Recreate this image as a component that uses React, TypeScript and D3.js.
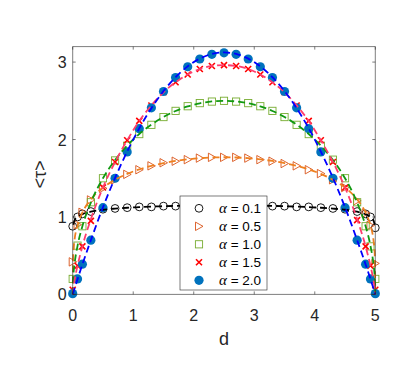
import React from "react";
import * as d3 from "d3";

// ---- data ----
const dPts = [0, 0.08, 0.16, 0.3, 0.5, 0.7, 0.9, 1.1, 1.3, 1.5, 1.7, 1.9, 2.1, 2.3, 2.5, 2.7, 2.9, 3.1, 3.3, 3.5, 3.7, 3.9, 4.1, 4.3, 4.5, 4.7, 4.84, 4.92, 5];
const tau01 = [0.88, 1.0, 1.04, 1.07, 1.1, 1.11, 1.12, 1.13, 1.13, 1.14, 1.14, 1.15, 1.15, 1.15, 1.15, 1.15, 1.15, 1.15, 1.14, 1.14, 1.13, 1.13, 1.12, 1.11, 1.1, 1.07, 1.04, 1.0, 0.86];
const tau05 = [0.42, 0.9, 1.06, 1.22, 1.37, 1.48, 1.55, 1.61, 1.66, 1.7, 1.72, 1.74, 1.76, 1.77, 1.77, 1.77, 1.76, 1.74, 1.72, 1.69, 1.66, 1.61, 1.56, 1.48, 1.38, 1.21, 1.05, 0.89, 0.4];
const tau10 = [0.2, 0.63, 0.88, 1.19, 1.5, 1.73, 1.92, 2.07, 2.19, 2.29, 2.37, 2.43, 2.47, 2.49, 2.5, 2.49, 2.47, 2.43, 2.37, 2.29, 2.19, 2.07, 1.92, 1.74, 1.5, 1.19, 0.88, 0.62, 0.2];
const tau15 = [0.06, 0.37, 0.62, 0.95, 1.38, 1.71, 1.99, 2.24, 2.44, 2.61, 2.74, 2.84, 2.91, 2.95, 2.96, 2.95, 2.91, 2.84, 2.74, 2.61, 2.44, 2.24, 1.99, 1.71, 1.38, 0.96, 0.62, 0.37, 0.06];
const tau20 = [0.01, 0.2, 0.39, 0.7, 1.12, 1.5, 1.84, 2.14, 2.41, 2.62, 2.8, 2.94, 3.04, 3.1, 3.12, 3.1, 3.04, 2.94, 2.8, 2.62, 2.41, 2.14, 1.84, 1.5, 1.12, 0.7, 0.39, 0.2, 0.01];

const dLine = [0, 0.01, 0.03, 0.08, 0.16, 0.3, 0.5, 0.7, 0.9, 1.1, 1.3, 1.5, 1.7, 1.9, 2.1, 2.3, 2.5, 2.7, 2.9, 3.1, 3.3, 3.5, 3.7, 3.9, 4.1, 4.3, 4.5, 4.7, 4.84, 4.92, 4.97, 4.99, 5];
const fit01 = [NaN, 0.9, 0.955, 1.0, 1.036, 1.068, 1.093, 1.108, 1.119, 1.127, 1.134, 1.139, 1.143, 1.146, 1.148, 1.149, 1.149, 1.149, 1.148, 1.146, 1.143, 1.139, 1.134, 1.127, 1.119, 1.108, 1.093, 1.068, 1.036, 1.0, 0.955, 0.9, NaN];
const fit05 = [0, 0.53, 0.7, 0.89, 1.056, 1.226, 1.379, 1.48, 1.556, 1.615, 1.66, 1.695, 1.723, 1.744, 1.759, 1.768, 1.771, 1.768, 1.759, 1.744, 1.723, 1.695, 1.66, 1.615, 1.556, 1.48, 1.379, 1.226, 1.056, 0.89, 0.7, 0.53, 0];
const fit10 = [0, 0.223, 0.386, 0.627, 0.88, 1.186, 1.5, 1.735, 1.921, 2.071, 2.193, 2.291, 2.369, 2.427, 2.468, 2.492, 2.5, 2.492, 2.468, 2.427, 2.369, 2.291, 2.193, 2.071, 1.921, 1.735, 1.5, 1.186, 0.88, 0.627, 0.386, 0.223, 0];
const fit15 = [0, 0.079, 0.18, 0.37, 0.62, 0.97, 1.38, 1.71, 1.99, 2.24, 2.44, 2.61, 2.74, 2.84, 2.91, 2.95, 2.96, 2.95, 2.91, 2.84, 2.74, 2.61, 2.44, 2.24, 1.99, 1.71, 1.38, 0.97, 0.62, 0.37, 0.18, 0.079, 0];
const fit20 = [0, 0.025, 0.075, 0.197, 0.387, 0.7, 1.125, 1.505, 1.845, 2.145, 2.405, 2.625, 2.805, 2.945, 3.045, 3.105, 3.125, 3.105, 3.045, 2.945, 2.805, 2.625, 2.405, 2.145, 1.845, 1.505, 1.125, 0.7, 0.387, 0.197, 0.075, 0.025, 0];

const alphaLabels = ["0.1", "0.5", "1.0", "1.5", "2.0"];
const xTicks = [0, 1, 2, 3, 4, 5];
const yTicks = [0, 1, 2, 3];

const markerSeries = [tau01, tau05, tau10, tau15, tau20];
const fitSeries = [fit01, fit05, fit10, fit15, fit20];
const markerKinds = ["circle", "tri", "square", "x", "dot"];
const markerColors = ["#000000", "#D95319", "#77AC30", "#FF0000", "#0072BD"];
const lineColors = ["#000000", "#EE8020", "#119911", "#FF3D6E", "#0000FF"];

const W = 407, H = 366;
const L = 72.7, R = 375.3, T = 46.6, B = 294.4;
const AX = "#262626";
const FONT = "'Liberation Sans', Arial, Helvetica, sans-serif";

function Marker({ kind, cx, cy, color }: { kind: string; cx: number; cy: number; color: string }) {
  if (kind === "circle") return <circle cx={cx} cy={cy} r={3.9} fill="none" stroke={color} strokeWidth={0.9} />;
  if (kind === "dot") return <circle cx={cx} cy={cy} r={4.6} fill={color} stroke="none" />;
  if (kind === "square") return <rect x={cx - 3.6} y={cy - 3.6} width={7.2} height={7.2} fill="none" stroke={color} strokeWidth={0.9} />;
  if (kind === "tri")
    return <polygon points={`${cx - 3.5},${cy - 4.2} ${cx - 3.5},${cy + 4.2} ${cx + 4},${cy}`} fill="none" stroke={color} strokeWidth={0.9} />;
  return (
    <g stroke={color} strokeWidth={1.6}>
      <line x1={cx - 3} y1={cy - 3} x2={cx + 3} y2={cy + 3} />
      <line x1={cx - 3} y1={cy + 3} x2={cx + 3} y2={cy - 3} />
    </g>
  );
}

export default function App() {
  const x = d3.scaleLinear().domain([0, 5]).range([L, R]);
  const y = d3.scaleLinear().domain([0, 3.2]).range([B, T]);
  const line = d3
    .line<[number, number]>()
    .defined((p) => !isNaN(p[1]))
    .x((p) => x(p[0]))
    .y((p) => y(p[1]))
    .curve(d3.curveMonotoneX);

  const legX = 180, legY = 196, legW = 87, legH = 94;
  const rows = [208.3, 226.3, 244.3, 262.3, 280.3];

  return (
    <div style={{ position: "fixed", left: 0, top: 0 }}>
      <svg width={W} height={H} style={{ display: "block", background: "#fff" }}>
        <rect x={0} y={0} width={W} height={H} fill="#fff" />
        <defs>
          <clipPath id="plot">
            <rect x={L - 6} y={T} width={R - L + 12} height={B - T + 6} />
          </clipPath>
        </defs>
        <g clipPath="url(#plot)">
          {markerSeries.map((vals, si) =>
            vals.map((v, i) => (
              <Marker key={`m${si}-${i}`} kind={markerKinds[si]} cx={x(dPts[i])} cy={y(v)} color={markerColors[si]} />
            ))
          )}
          {fitSeries.map((vals, si) => (
            <path
              key={`l${si}`}
              d={line(vals.map((v, i) => [dLine[i], v] as [number, number])) || ""}
              fill="none"
              stroke={lineColors[si]}
              strokeWidth={1.8}
              strokeDasharray="7 4"
            />
          ))}
        </g>
        <g stroke={AX} strokeWidth={0.6} fill="none">
          <line x1={L} y1={B} x2={R} y2={B} />
          <line x1={L} y1={T} x2={R} y2={T} />
          <line x1={L} y1={T} x2={L} y2={B} />
          <line x1={R} y1={T} x2={R} y2={B} />
          {xTicks.map((t) => (
            <g key={`xt${t}`}>
              <line x1={x(t)} y1={B} x2={x(t)} y2={B - 3} />
              <line x1={x(t)} y1={T} x2={x(t)} y2={T + 3} />
            </g>
          ))}
          {yTicks.map((t) => (
            <g key={`yt${t}`}>
              <line x1={L} y1={y(t)} x2={L + 3} y2={y(t)} />
              <line x1={R} y1={y(t)} x2={R - 3} y2={y(t)} />
            </g>
          ))}
        </g>
        <g fill={AX} fontFamily={FONT} fontSize={16}>
          {xTicks.map((t) => (
            <text key={`xl${t}`} x={x(t)} y={B + 27} textAnchor="middle">
              {t}
            </text>
          ))}
          {yTicks.map((t) => (
            <text key={`yl${t}`} x={L - 6} y={y(t) + 6} textAnchor="end">
              {t}
            </text>
          ))}
          <text x={(L + R) / 2} y={B + 51} textAnchor="middle" fontSize={18}>
            d
          </text>
          <text transform={`translate(46,${(T + B) / 2 + 4}) rotate(-90)`} textAnchor="middle" fontSize={18}>
            {"<τ>"}
          </text>
        </g>
        <rect x={legX} y={legY} width={legW} height={legH} fill="#fff" stroke={AX} strokeWidth={0.6} />
        {alphaLabels.map((a, i) => (
          <g key={`lg${i}`}>
            <Marker kind={markerKinds[i]} cx={199} cy={rows[i]} color={markerColors[i]} />
            <text x={219} y={rows[i] + 5} fontFamily={FONT} fontSize={13.5} fill="#000">
              <tspan fontFamily="'Liberation Serif', 'Times New Roman', serif" fontStyle="italic" fontSize={15}>
                α
              </tspan>
              {` = ${a}`}
            </text>
          </g>
        ))}
      </svg>
    </div>
  );
}
